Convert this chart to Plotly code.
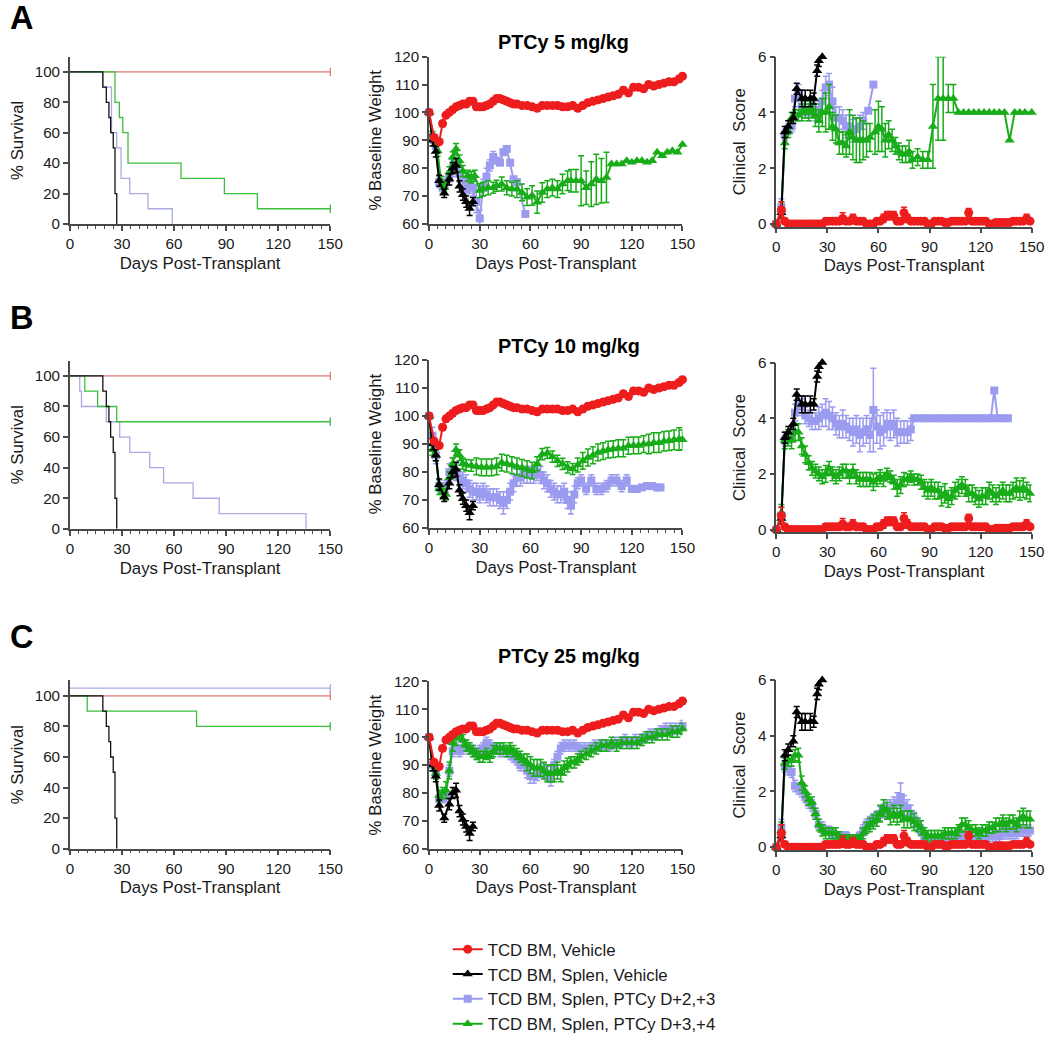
import plotly.graph_objects as go

# ---------------- data ----------------
DAY_TICKS = [0, 30, 60, 90, 120, 150]
SURV_TICKS = [0, 20, 40, 60, 80, 100]
WT_TICKS = [60, 70, 80, 90, 100, 110, 120]
SC_TICKS = [0, 2, 4, 6]

GROUPS = ["TCD BM, Vehicle", "TCD BM, Splen, Vehicle",
          "TCD BM, Splen, PTCy D+2,+3", "TCD BM, Splen, PTCy D+3,+4"]
PANEL_LETTERS = ["A", "B", "C"]
DOSE_TITLES = ["PTCy 5 mg/kg", "PTCy 10 mg/kg", "PTCy 25 mg/kg"]

# ---- survival (Kaplan-Meier steps) ----
SURV_VEH_X = [0, 150]
SURV_VEH_Y = [100, 100]
SURV_SPL_X = [0, 19, 21, 22.5, 23.5, 25, 26, 27]
SURV_SPL_Y = [100, 90, 80, 70, 60, 50, 20, 0]
SURV_A_D23_X = [0, 19, 24, 27, 29.5, 34.5, 45, 59]
SURV_A_D23_Y = [100, 90, 60, 50, 30, 20, 10, 0]
SURV_A_D34_X = [0, 26, 28.5, 30.5, 33.5, 64, 89, 108, 150]
SURV_A_D34_Y = [100, 80, 70, 60, 40, 30, 20, 10, 10]
SURV_B_D23_X = [0, 5.7, 6.7, 21, 28.7, 34.5, 46, 54, 71, 86, 136]
SURV_B_D23_Y = [100, 90, 80, 70, 60, 50, 40, 30, 20, 10, 0]
SURV_B_D34_X = [0, 8.6, 16, 27, 150]
SURV_B_D34_Y = [100, 90, 80, 70, 70]
SURV_C_D23_X = [0, 150]
SURV_C_D23_Y = [105, 105]
SURV_C_D34_X = [0, 10, 73, 150]
SURV_C_D34_Y = [100, 90, 80, 80]

# ---- weight (% baseline) ----
WT_VEH_D = [0, 3, 6, 8, 10, 12, 14, 16, 18, 20, 22, 24, 26, 28, 30, 32, 34, 36, 38, 40,
            42, 44, 46, 48, 50, 52, 55, 58, 61, 64, 67, 70, 73, 76, 79, 82, 85, 88, 91, 94,
            97, 100, 103, 106, 109, 112, 115, 118, 121, 124, 127, 130, 133, 136, 139, 142, 145, 148, 150]
WT_VEH = [100, 91, 89.5, 96, 99, 100, 101, 102, 102.5, 103, 103, 104, 104, 102, 102, 102, 102.5, 103, 104, 105,
          105, 104.5, 104, 103.5, 103, 103, 102.5, 102.5, 102, 101.5, 102.5, 102.5, 102.5, 102.5, 102, 102, 102.5, 101.5, 102.5, 103.5,
          104, 104.5, 105, 105.5, 106, 106.5, 108, 107, 109, 109, 108.5, 110, 109.5, 110, 110.5, 111, 111, 112, 113]
WT_VEH_ERR = 1.0

WT_SPL_D = [0, 2, 4, 6, 9, 12, 14, 16, 18, 20, 22, 24, 26]
WT_SPL = [100, 90, 86, 75.5, 71, 76, 80, 81, 73.5, 70.5, 68, 65.5, 68]
WT_SPL_E = [0, 2, 2, 2, 1.5, 2, 2, 2.5, 2, 2, 2, 2.5, 1.5]

WT_A_D23_D = [0, 2, 4, 6, 8, 10, 12, 14, 16, 18, 20, 22, 24, 26, 28, 30, 32, 34, 36, 38,
              40, 42, 44, 46, 48, 50, 52, 57]
WT_A_D23 = [100, 91, 88, 75, 73, 75, 77, 80, 82, 78, 76, 72, 74, 73, 68, 62, 73, 77, 81, 84,
            82.7, 82, 85.7, 86.9, 82, 76, 75, 63.6]
WT_A_D23_E = [0, 2, 2, 2, 2, 2, 2, 3, 3, 3, 3, 3, 3, 3, 4, 3, 3, 3, 2, 2,
              1, 1, 1, 1, 1, 1, 1, 1]

WT_A_D34_D = [0, 2, 5, 7, 9, 12, 14, 16, 18, 20, 23, 25, 27, 30, 32, 35, 38, 40, 43, 46,
              49, 52, 55, 58, 61, 64, 67, 70, 73, 76, 79, 82, 84, 87, 90, 93, 96, 99, 102, 105,
              108, 111, 114, 117, 120, 123, 126, 129, 132, 135, 138, 141, 144, 147, 150]
WT_A_D34 = [100, 91.7, 86.3, 75.5, 73, 78.5, 83.9, 86.9, 82.7, 79, 77.3, 76.7, 77.3, 72, 72.5, 73, 73, 73.7, 74.3, 73,
            72.5, 72.5, 71.3, 69.6, 70.2, 67.8, 71.3, 72.5, 73, 72.5, 74.3, 75.5, 75.5, 75.5, 75.5, 73, 74.3, 76, 75.5, 76.7,
            81.5, 81.5, 81.5, 82.7, 82.1, 82.7, 82.7, 82.1, 82.7, 85.7, 84.5, 85.7, 86.3, 85.7, 88.5]
WT_A_D34_E = [0, 1.5, 2, 1.5, 1.5, 2, 2, 2, 2, 2, 2, 2, 2, 2.5, 2.5, 2.5, 2, 2, 2.5, 2.5,
              2.5, 3, 3, 3, 3.5, 4, 3.5, 3, 3, 3, 3.5, 3.5, 4, 4, 9, 6, 8, 9, 8, 9,
              0, 0, 0, 0, 0, 0, 0, 0, 0, 0, 0, 0, 0, 0, 0]

WT_B_D23_D = [0, 2, 4, 6, 8, 10, 12, 14, 16, 18, 20, 22, 24, 26, 28, 30, 32, 34, 36, 38,
              40, 42, 44, 46, 48, 50, 52, 54, 56, 58, 60, 62, 64, 66, 68, 70, 72, 74, 76, 78,
              80, 82, 84, 86, 88, 90, 93, 96, 99, 102, 105, 108, 111, 114, 117, 120, 123, 126, 129, 132,
              135, 137]
WT_B_D23 = [100, 93, 86, 75, 74, 75, 80, 82, 80, 78, 77, 76, 74, 73, 73, 72, 73, 72, 71, 71,
            71, 70, 69, 70, 73, 76, 78, 78, 79, 79, 79, 79, 80, 79, 77, 76, 74, 73, 72, 72,
            73, 70, 68, 72, 76, 77, 74, 77, 74, 74, 75, 77, 77, 75, 77, 74, 74, 74.5, 75, 75,
            74.5, 74.5]
WT_B_D23_E = [0, 3, 3, 2, 2, 2, 3, 3, 3, 3, 3, 3, 3, 3, 3, 3, 3, 3, 3, 3,
              3, 3, 4, 3, 3, 3, 3, 3, 3, 3, 3, 3, 3, 3, 3, 3, 3, 3, 3, 3,
              3, 3, 3, 3, 2, 2, 2, 2, 2, 2, 2, 2, 2, 2, 2, 1, 1, 1, 1, 1,
              1, 1]

WT_B_D34_D = [0, 2, 4, 6, 8, 10, 12, 14, 16, 18, 20, 22, 25, 28, 31, 34, 37, 40, 43, 46,
              49, 52, 55, 58, 61, 64, 67, 70, 73, 76, 79, 82, 85, 88, 91, 94, 97, 100, 103, 106,
              109, 112, 115, 118, 121, 124, 127, 130, 133, 136, 139, 142, 145, 148, 150]
WT_B_D34 = [100, 88, 86, 74, 73, 72, 78, 83, 88, 86, 83, 82.5, 82.3, 82, 81.7, 81.7, 81.7, 82, 83.4, 83,
            82.5, 82, 81.5, 81, 80.5, 83, 86.4, 86.8, 85.5, 84, 82.9, 81.7, 81.1, 82.5, 84, 85.2, 86, 87, 87.5, 88,
            88.2, 88.5, 88.5, 89.4, 89.5, 89.5, 90, 90, 90.5, 90.5, 91, 91.2, 91.5, 91.8, 91.5]
WT_B_D34_E = [0, 2, 2, 2, 2, 2, 2, 2, 2, 2, 2, 2, 2, 3, 3, 3, 3, 3, 3, 3,
              3, 3, 3, 3, 3, 2.5, 2, 2, 2, 2, 2, 2, 2, 2.5, 3, 3, 3, 3, 3, 3,
              3, 3, 3, 3, 3, 3, 3, 3.5, 3.5, 3.5, 3.5, 3.5, 3.5, 4, 3.5]

WT_C_D23_D = [0, 2, 4, 6, 8, 10, 12, 14, 16, 18, 20, 22, 24, 26, 28, 30, 32, 34, 36, 38,
              40, 42, 44, 46, 48, 50, 52, 54, 56, 58, 60, 62, 64, 66, 68, 70, 72, 74, 76, 78,
              80, 83, 86, 89, 92, 95, 98, 101, 104, 107, 110, 113, 116, 119, 122, 125, 128, 131, 134, 137,
              140, 143, 146, 150]
WT_C_D23 = [100, 90, 87, 78, 78, 79, 88, 95, 96, 95, 96, 97, 96, 95, 94, 95, 96, 98, 97, 96,
            96, 95, 95, 95, 94, 93, 92, 90, 90, 88, 86, 86, 87, 88, 88, 87, 85, 90, 93, 96,
            97, 97, 97, 96, 96, 96, 97, 97, 97, 97, 98, 98, 99, 98, 99, 99, 100, 101, 101, 102,
            103, 103, 103, 104]
WT_C_D23_E = [0, 2, 2, 1.5, 1.5, 2, 2, 2, 2, 2, 2, 2, 2, 2, 2, 2, 2, 2, 2, 2,
              2, 2, 2, 2, 2, 2, 2, 2, 2, 2.5, 2.5, 2.5, 2.5, 2.5, 2.5, 2.5, 2.5, 2, 2, 2,
              2, 2, 2, 2, 2, 2, 2, 2, 2, 2, 2, 2, 2, 2, 2, 2, 2, 2, 2, 2,
              2, 2, 2, 2]

WT_C_D34_D = [0, 2, 4, 6, 8, 10, 12, 14, 16, 18, 20, 22, 24, 26, 28, 30, 32, 34, 36, 38,
              40, 42, 44, 46, 48, 50, 52, 54, 56, 58, 60, 62, 64, 66, 68, 70, 72, 74, 76, 78,
              80, 82, 84, 86, 88, 90, 93, 96, 99, 102, 105, 108, 111, 114, 117, 120, 123, 126, 129, 132,
              135, 138, 141, 144, 147, 150]
WT_C_D34 = [100, 90, 87, 79, 80, 81, 88, 98, 100, 101, 99, 97, 96, 95, 94, 93, 93, 94, 93, 95,
            96, 96, 96, 95, 96, 95, 94, 93, 92, 91, 90, 89, 89, 89, 88, 87, 87, 87, 88, 87,
            89, 90, 91, 91, 92, 93, 94, 95, 96, 97, 97, 98, 97, 98, 98, 98, 98, 99, 100, 100,
            101, 101, 101, 102, 102, 103]
WT_C_D34_E = [0, 2, 2, 2, 2, 3, 3, 3, 3, 2, 2, 2, 2, 2, 2, 2, 2, 2, 2, 2,
              2, 2, 2, 2, 2, 2, 2, 2, 2, 3, 3, 3, 3, 3, 3, 3, 3, 3, 3, 3,
              2.5, 2.5, 2, 2, 2, 2, 2, 2, 2, 2, 2, 2, 2, 2, 2, 2, 2, 2, 2, 2,
              2, 2, 2, 2, 2, 2]

# ---- clinical score ----
SC_DAYS = [0, 3, 5, 7, 9, 11, 13, 15, 17, 19, 21, 23, 25, 27, 29, 31, 33, 35, 37, 39,
           41, 43, 45, 47, 49, 51, 53, 55, 57, 59, 61, 63, 65, 67, 69, 71, 73, 75, 77, 79,
           81, 83, 85, 87, 89, 91, 93, 95, 97, 99, 101, 103, 105, 107, 109, 111, 113, 115, 117, 119,
           121, 123, 125, 127, 129, 131, 133, 135, 137, 139, 141, 143, 145, 147, 149]
SC_VEH = [0, 0.5, 0.1, 0, 0, 0, 0, 0, 0, 0, 0, 0, 0, 0, 0.1, 0.1, 0.1, 0.1, 0.1, 0.2,
          0.1, 0.1, 0.2, 0.1, 0.1, 0.1, 0, 0, 0, 0.1, 0.1, 0.2, 0.3, 0.3, 0.3, 0.1, 0.1, 0.4, 0.2, 0.1,
          0.1, 0.1, 0.1, 0.1, 0, 0, 0.1, 0.1, 0.1, 0.05, 0.05, 0.1, 0.1, 0.1, 0.1, 0.1, 0.4, 0.1, 0.1, 0.1,
          0.1, 0.1, 0, 0, 0.05, 0.05, 0.05, 0.05, 0.05, 0.1, 0.1, 0.1, 0.1, 0.2, 0.1]
SC_VEH_E = [0, 0.3, 0.1, 0, 0, 0, 0, 0, 0, 0, 0, 0, 0, 0, 0.1, 0.1, 0.1, 0.1, 0.1, 0.2,
            0.1, 0.1, 0.15, 0.1, 0.1, 0.1, 0, 0, 0, 0.1, 0.1, 0.15, 0.15, 0.15, 0.15, 0.1, 0.1, 0.2, 0.15, 0.1,
            0.1, 0.1, 0.1, 0.1, 0, 0, 0.1, 0.1, 0.1, 0.05, 0.05, 0.1, 0.1, 0.1, 0.1, 0.1, 0.15, 0.1, 0.1, 0.1,
            0.1, 0.1, 0, 0, 0.05, 0.05, 0.05, 0.05, 0.05, 0.1, 0.1, 0.1, 0.1, 0.15, 0.1]

SC_SPL_D = [0, 3, 5, 7, 10, 12, 15, 17, 20, 22, 24, 25, 27]
SC_SPL = [0, 0.4, 3.3, 3.5, 3.8, 4.85, 4.5, 4.5, 4.5, 4.5, 5.5, 5.85, 6]
SC_SPL_E = [0, 0.2, 0.2, 0.2, 0.2, 0.2, 0.3, 0.3, 0.3, 0.2, 0.2, 0.2, 0]

SC_A_D23_D = [0, 3, 5, 7, 9, 11, 13, 15, 17, 19, 21, 23, 25, 27, 29, 31, 33, 35, 37, 39,
              41, 43, 45, 47, 49, 51, 54, 57]
SC_A_D23 = [0, 0.6, 3.2, 3.4, 3.5, 4.5, 4.7, 4.2, 4.1, 4.0, 4.3, 4.0, 4.1, 4.4, 4.9, 5.0, 4.4, 3.8, 3.8, 3.7,
            3.5, 3.5, 3.35, 3.4, 3.5, 3.7, 4.06, 5.0]
SC_A_D23_E = [0, 0.3, 0.2, 0.2, 0.2, 0.3, 0.3, 0.3, 0.3, 0.3, 0.3, 0.3, 0.3, 0.4, 0.4, 0.4, 0.5, 0.4, 0.4, 0.4,
              0.4, 0.4, 0.4, 0.4, 0.4, 0.3, 0, 0]

SC_A_D34_D = [0, 3, 5, 7, 9, 11, 13, 15, 17, 19, 21, 23, 25, 27, 29, 31, 33, 35, 37, 39,
              41, 43, 45, 47, 49, 51, 53, 55, 58, 60, 62, 64, 66, 68, 70, 72, 74, 76, 78, 80,
              83, 86, 89, 92, 95, 98, 101, 104, 107, 110, 113, 116, 119, 122, 125, 128, 131, 134, 137, 140,
              143, 146, 150]
SC_A_D34 = [0, 0.5, 2.9, 3.3, 3.8, 3.9, 3.9, 4.0, 4.1, 4.0, 4.1, 3.9, 3.7, 4.0, 4.0, 4.2, 3.5, 3.4, 2.9, 2.9,
            2.8, 3.3, 3.1, 3.0, 3.0, 3.0, 3.0, 3.1, 3.3, 3.5, 3.4, 3.0, 3.2, 3.0, 2.8, 2.6, 2.5, 2.5, 2.6, 2.3,
            2.4, 2.3, 2.3, 3.5, 4.5, 4.5, 4.5, 4.5, 4.0, 4.0, 4.0, 4.0, 4.0, 4.0, 4.0, 4.0, 4.0, 4.0, 3.0, 4.0,
            4.0, 4.0, 4.0]
SC_A_D34_E = [0, 0.3, 0.2, 0.2, 0.2, 0.2, 0.2, 0.3, 0.3, 0.3, 0.3, 0.4, 0.4, 0.5, 0.7, 0.8, 0.5, 0.5, 0.4, 0.4,
              0.4, 0.8, 0.8, 0.8, 0.8, 0.7, 0.6, 0.5, 0.8, 0.9, 0.8, 0.6, 0.5, 0.4, 0.3, 0.3, 0.3, 0.3, 0.4, 0.3,
              0.3, 0.3, 0.3, 1.5, 1.5, 1.5, 0.5, 0.5, 0, 0, 0, 0, 0, 0, 0, 0, 0, 0, 0, 0,
              0, 0, 0]

SC_B_D23_D = [0, 3, 5, 7, 9, 11, 13, 15, 17, 19, 21, 23, 25, 27, 29, 31, 33, 35, 37, 39,
              41, 43, 45, 47, 49, 51, 53, 55, 57, 59, 61, 63, 65, 67, 69, 71, 73, 75, 77, 79,
              81, 84, 87, 90, 93, 96, 99, 102, 105, 108, 111, 114, 117, 120, 123, 126, 128, 130, 133, 136]
SC_B_D23 = [0, 0.5, 3.2, 3.3, 3.5, 4.2, 4.5, 4.4, 4.1, 4.0, 3.9, 3.9, 4.0, 4.1, 4.2, 4.1, 4.0, 3.8, 3.7, 3.8,
            3.7, 3.6, 3.5, 3.6, 3.4, 3.5, 3.6, 3.4, 4.3, 3.7, 3.5, 3.6, 3.8, 3.7, 3.8, 3.5, 3.5, 3.5, 3.5, 3.6,
            4.0, 4.0, 4.0, 4.0, 4.0, 4.0, 4.0, 4.0, 4.0, 4.0, 4.0, 4.0, 4.0, 4.0, 4.0, 4.0, 5.0, 4.0, 4.0, 4.0]
SC_B_D23_E = [0, 0.3, 0.2, 0.2, 0.2, 0.3, 0.3, 0.3, 0.3, 0.3, 0.3, 0.3, 0.4, 0.4, 0.5, 0.5, 0.4, 0.4, 0.4, 0.5,
              0.4, 0.4, 0.5, 0.5, 0.6, 0.5, 0.5, 0.6, 1.5, 0.6, 0.6, 0.6, 0.5, 0.5, 0.5, 0.5, 0.4, 0.4, 0.4, 0.4,
              0, 0, 0, 0, 0, 0, 0, 0, 0, 0, 0, 0, 0, 0, 0, 0, 0, 0, 0, 0]

SC_B_D34 = [0, 0.6, 3.2, 3.3, 3.2, 3.5, 3.5, 3.0, 2.7, 2.4, 2.2, 2.1, 2.0, 1.9, 2.0, 2.2, 2.0, 1.9, 2.0, 2.1,
            2.1, 1.9, 2.1, 1.9, 1.8, 1.8, 1.8, 1.8, 1.7, 1.8, 1.9, 1.8, 2.0, 1.9, 1.7, 1.5, 1.6, 1.8, 1.8, 1.9,
            1.8, 1.8, 1.7, 1.5, 1.4, 1.5, 1.4, 1.4, 1.2, 1.3, 1.1, 1.2, 1.4, 1.5, 1.6, 1.5, 1.3, 1.3, 1.2, 1.1,
            1.2, 1.2, 1.4, 1.3, 1.2, 1.3, 1.4, 1.3, 1.3, 1.4, 1.5, 1.4, 1.5, 1.4, 1.3]
SC_B_D34_E = [0, 0.3, 0.3, 0.3, 0.3, 0.3, 0.3, 0.3, 0.3, 0.25, 0.25, 0.25, 0.25, 0.25, 0.3, 0.25, 0.25, 0.25, 0.25, 0.25,
              0.25, 0.25, 0.25, 0.25, 0.25, 0.25, 0.25, 0.25, 0.3, 0.25, 0.25, 0.25, 0.2, 0.2, 0.25, 0.3, 0.3, 0.25, 0.2, 0.2,
              0.2, 0.2, 0.25, 0.3, 0.3, 0.3, 0.3, 0.3, 0.35, 0.35, 0.3, 0.3, 0.3, 0.3, 0.3, 0.3, 0.3, 0.3, 0.3, 0.3,
              0.3, 0.3, 0.3, 0.3, 0.3, 0.3, 0.3, 0.3, 0.3, 0.3, 0.35, 0.35, 0.35, 0.3, 0.3]

SC_C_D23 = [0, 0.7, 2.9, 2.8, 2.7, 2.2, 2.1, 2.0, 1.8, 1.6, 1.5, 1.2, 0.8, 0.7, 0.6, 0.6, 0.5, 0.4, 0.4, 0.4,
            0.4, 0.3, 0.3, 0.3, 0.4, 0.6, 0.8, 0.9, 1.0, 1.1, 1.2, 1.3, 1.4, 1.4, 1.5, 1.6, 1.8, 1.5, 1.4, 1.2,
            1.0, 0.8, 0.6, 0.4, 0.3, 0.3, 0.2, 0.2, 0.2, 0.3, 0.3, 0.3, 0.3, 0.4, 0.4, 0.4, 0.3, 0.3, 0.3, 0.3,
            0.3, 0.3, 0.4, 0.4, 0.4, 0.4, 0.5, 0.5, 0.5, 0.5, 0.5, 0.6, 0.6, 0.6, 0.6]
SC_C_D23_E = [0, 0.3, 0.2, 0.2, 0.2, 0.2, 0.2, 0.2, 0.2, 0.2, 0.2, 0.2, 0.2, 0.2, 0.15, 0.15, 0.15, 0.15, 0.15, 0.15,
              0.15, 0.15, 0.15, 0.15, 0.15, 0.2, 0.2, 0.2, 0.2, 0.2, 0.25, 0.25, 0.3, 0.3, 0.3, 0.35, 0.5, 0.35, 0.3, 0.3,
              0.25, 0.2, 0.2, 0.15, 0.15, 0.15, 0.15, 0.15, 0.15, 0.15, 0.15, 0.15, 0.15, 0.2, 0.2, 0.2, 0.2, 0.2, 0.2, 0.2,
              0.2, 0.2, 0.2, 0.2, 0.2, 0.2, 0.2, 0.2, 0.2, 0.2, 0.2, 0.2, 0.2, 0.2, 0.2]
SC_C_D34 = [0, 0.6, 3.0, 3.1, 3.1, 3.3, 3.3, 2.3, 2.0, 1.7, 1.6, 1.2, 0.8, 0.6, 0.5, 0.5, 0.5, 0.5, 0.4, 0.3,
            0.3, 0.3, 0.3, 0.3, 0.3, 0.5, 0.7, 0.8, 0.9, 1.0, 1.2, 1.4, 1.3, 1.1, 1.2, 1.1, 1.2, 1.0, 1.0, 1.0,
            0.9, 0.8, 0.7, 0.5, 0.4, 0.4, 0.4, 0.4, 0.4, 0.5, 0.5, 0.5, 0.5, 0.6, 0.8, 0.8, 0.7, 0.6, 0.6, 0.5,
            0.6, 0.6, 0.7, 0.7, 0.8, 0.8, 0.9, 0.8, 0.9, 0.9, 0.8, 1.0, 1.1, 1.0, 1.0]
SC_C_D34_E = [0, 0.3, 0.2, 0.2, 0.2, 0.2, 0.25, 0.25, 0.2, 0.2, 0.2, 0.2, 0.2, 0.2, 0.2, 0.2, 0.2, 0.2, 0.15, 0.15,
              0.15, 0.15, 0.15, 0.15, 0.15, 0.2, 0.2, 0.25, 0.25, 0.25, 0.3, 0.3, 0.3, 0.3, 0.3, 0.3, 0.3, 0.3, 0.3, 0.3,
              0.3, 0.25, 0.25, 0.2, 0.2, 0.2, 0.2, 0.2, 0.2, 0.2, 0.2, 0.2, 0.2, 0.2, 0.25, 0.25, 0.25, 0.2, 0.2, 0.2,
              0.2, 0.2, 0.2, 0.2, 0.25, 0.25, 0.25, 0.25, 0.25, 0.25, 0.25, 0.3, 0.3, 0.3, 0.3]

# ---------------- style ----------------
FONT = "Liberation Sans, Arial, sans-serif"
C_RED, C_BLACK, C_LAV, C_GREEN = "#ee1d1d", "#000000", "#9b9bef", "#19ac19"
S_RED, S_BLACK, S_LAV, S_GREEN = "#e27a78", "#111111", "#a9a9e6", "#3cbf3c"
AXC = "#4a4a4a"
TXT = "#1a1a1a"
W, H = 1050, 1043
# the photographed page comes out slightly shrunk/shifted; target positions below are
# in photographed pixels and converted back to figure pixels here
SX, SY, OX, OY = 0.986, 0.984, 2.0, 8.3


def pxx(x):
    return ((x - OX) / SX) / W


def pxy(y):
    return 1 - ((y - OY) / SY) / H


COLX = [(68, 329), (428, 682), (776, 1032)]
ROWY = [[(56, 223.3), (56, 223.3), (56, 226.1)],
        [(360, 528.3), (359.5, 527.5), (362, 531.8)],
        [(680, 848.3), (681, 848.3), (679.5, 849.5)]]

fig = go.Figure()


def axn(r, c):
    return r * 3 + c + 1


def ref(n, k):
    return k if n == 1 else f"{k}{n}"


def surv(n, x, y, color, censor):
    fig.add_trace(go.Scatter(x=x, y=y, mode="lines", line=dict(color=color, width=1.3, shape="hv"),
                             xaxis=ref(n, "x"), yaxis=ref(n, "y"), showlegend=False,
                             hoverinfo="skip", cliponaxis=False))
    if censor:
        fig.add_trace(go.Scatter(x=[x[-1]], y=[y[-1]], mode="markers",
                                 marker=dict(symbol="line-ns", size=6, line=dict(color=color, width=1.3)),
                                 xaxis=ref(n, "x"), yaxis=ref(n, "y"), showlegend=False,
                                 hoverinfo="skip", cliponaxis=False))


def series(n, x, y, err, color, symbol, size, gi=None):
    if isinstance(err, (int, float)):
        ey = dict(type="constant", value=err, color=color, thickness=1.5, width=3)
    else:
        ey = dict(type="data", array=err, color=color, thickness=1.5, width=3)
    fig.add_trace(go.Scatter(
        x=x, y=y, mode="lines+markers",
        line=dict(color=color, width=2),
        marker=dict(color=color, symbol=symbol, size=size, line=dict(width=0)),
        error_y=ey, xaxis=ref(n, "x"), yaxis=ref(n, "y"),
        name=GROUPS[gi] if gi is not None else None,
        showlegend=gi is not None, legendrank=(gi or 0) + 1,
        cliponaxis=False))


SURV_DATA = [
    (SURV_A_D23_X, SURV_A_D23_Y, SURV_A_D34_X, SURV_A_D34_Y),
    (SURV_B_D23_X, SURV_B_D23_Y, SURV_B_D34_X, SURV_B_D34_Y),
    (SURV_C_D23_X, SURV_C_D23_Y, SURV_C_D34_X, SURV_C_D34_Y),
]
WT_DATA = [
    (WT_A_D23_D, WT_A_D23, WT_A_D23_E, WT_A_D34_D, WT_A_D34, WT_A_D34_E),
    (WT_B_D23_D, WT_B_D23, WT_B_D23_E, WT_B_D34_D, WT_B_D34, WT_B_D34_E),
    (WT_C_D23_D, WT_C_D23, WT_C_D23_E, WT_C_D34_D, WT_C_D34, WT_C_D34_E),
]
SC_DATA = [
    (SC_A_D23_D, SC_A_D23, SC_A_D23_E, SC_A_D34_D, SC_A_D34, SC_A_D34_E),
    (SC_B_D23_D, SC_B_D23, SC_B_D23_E, SC_DAYS, SC_B_D34, SC_B_D34_E),
    (SC_DAYS, SC_C_D23, SC_C_D23_E, SC_DAYS, SC_C_D34, SC_C_D34_E),
]

for r in range(3):
    # survival
    n = axn(r, 0)
    lx, ly, gx, gy = SURV_DATA[r]
    surv(n, SURV_VEH_X, SURV_VEH_Y, S_RED, True)
    surv(n, lx, ly, S_LAV, ly[-1] > 0)
    surv(n, gx, gy, S_GREEN, gy[-1] > 0)
    surv(n, SURV_SPL_X, SURV_SPL_Y, S_BLACK, False)
    # weight
    n = axn(r, 1)
    ld, lv, le, gd, gv, ge = WT_DATA[r]
    lg = r == 0
    series(n, ld, lv, le, C_LAV, "square", 8, 2 if lg else None)
    series(n, gd, gv, ge, C_GREEN, "triangle-up", 9, 3 if lg else None)
    series(n, WT_SPL_D, WT_SPL, WT_SPL_E, C_BLACK, "triangle-up", 9, 1 if lg else None)
    series(n, WT_VEH_D, WT_VEH, WT_VEH_ERR, C_RED, "circle", 9, 0 if lg else None)
    # score
    n = axn(r, 2)
    ld, lv, le, gd, gv, ge = SC_DATA[r]
    series(n, ld, lv, le, C_LAV, "square", 8)
    series(n, gd, gv, ge, C_GREEN, "triangle-up", 9)
    series(n, SC_SPL_D, SC_SPL, SC_SPL_E, C_BLACK, "triangle-up", 9)
    series(n, SC_DAYS, SC_VEH, SC_VEH_E, C_RED, "circle", 9)

# ---------------- axes ----------------
TICK_FS, TITLE_FS = 15.2, 16.8
layout_axes = {}
for r in range(3):
    for c in range(3):
        n = axn(r, c)
        x0, x1 = COLX[c]
        yt, yb = ROWY[r][c]
        xk = "xaxis" if n == 1 else f"xaxis{n}"
        yk = "yaxis" if n == 1 else f"yaxis{n}"
        common = dict(showline=True, linecolor=AXC, linewidth=1.5, ticks="outside", ticklen=5,
                      tickwidth=1.5, tickcolor=AXC, showgrid=False, zeroline=False,
                      tickfont=dict(size=TICK_FS, family=FONT, color=TXT))
        xa = dict(common, domain=[pxx(x0), pxx(x1)], anchor=ref(n, "y"), range=[0, 150],
                  tickvals=DAY_TICKS,
                  title=dict(text="Days Post-Transplant", font=dict(size=TITLE_FS, family=FONT, color=TXT),
                             standoff=6))
        if c < 2:
            xa["minor"] = dict(ticks="outside", ticklen=3, tickwidth=1, tickcolor=AXC, dtick=5,
                               tick0=0, showgrid=False)
        if c == 0:
            ya = dict(common, range=[0, 110], tickvals=SURV_TICKS,
                      title=dict(text="% Survival", standoff=7))
        elif c == 1:
            ya = dict(common, range=[60, 120], tickvals=WT_TICKS,
                      title=dict(text="% Baseline Weight", standoff=8))
        else:
            ya = dict(common, range=[-0.1, 6], tickvals=SC_TICKS,
                      title=dict(text="Clinical\u00a0 Score", standoff=8))
        ya["title"]["font"] = dict(size=TITLE_FS, family=FONT, color=TXT)
        ya.update(domain=[pxy(yb), pxy(yt)], anchor=ref(n, "x"))
        layout_axes[xk] = xa
        layout_axes[yk] = ya

annotations = []
LETTER_Y = [17, 317, 636]
TITLE_Y = [41, 345, 655]
for r in range(3):
    annotations.append(dict(text=f"<b>{PANEL_LETTERS[r]}</b>", x=pxx(20), y=pxy(LETTER_Y[r]),
                            xref="paper", yref="paper", showarrow=False,
                            xanchor="center", yanchor="middle",
                            font=dict(size=32.5, family=FONT, color="#000")))
    annotations.append(dict(text=f"<b>{DOSE_TITLES[r]}</b>", x=pxx(495), y=pxy(TITLE_Y[r]),
                            xref="paper", yref="paper", showarrow=False,
                            xanchor="left", yanchor="middle",
                            font=dict(size=19.8, family=FONT, color="#000")))

fig.update_layout(
    width=W, height=H, margin=dict(l=0, r=0, t=0, b=0),
    paper_bgcolor="white", plot_bgcolor="white",
    font=dict(family=FONT, color=TXT),
    annotations=annotations,
    hovermode=False,
    legend=dict(x=451 / W, y=1 - 938 / H, xanchor="left", yanchor="top",
                font=dict(size=16.8, family=FONT, color=TXT),
                bgcolor="rgba(0,0,0,0)", tracegroupgap=0, itemwidth=30),
    **layout_axes,
)

POST = ("document.documentElement.style.margin='0';document.documentElement.style.padding='0';"
        "document.documentElement.style.overflow='hidden';"
        "document.body.style.margin='0';document.body.style.padding='0';document.body.style.overflow='hidden';"
        "var gd=document.getElementById('{plot_id}');gd.style.position='fixed';"
        "gd.style.left='0px';gd.style.top='0px';")

fig.write_html("out.html", config={"displayModeBar": False}, post_script=POST)
